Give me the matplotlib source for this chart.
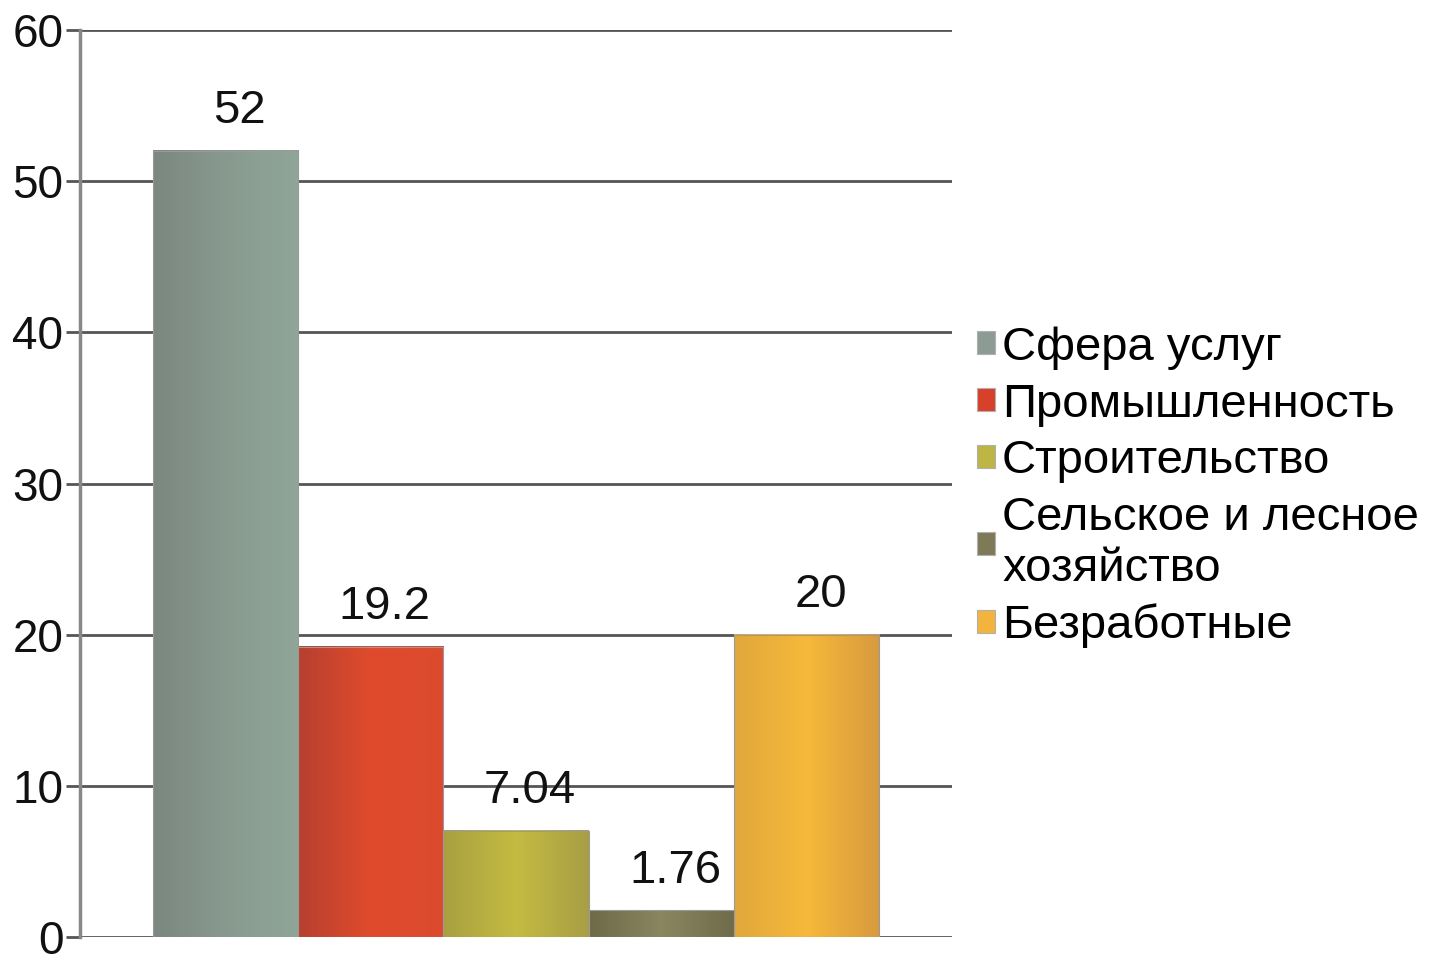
import matplotlib
matplotlib.use("Agg")
import matplotlib.pyplot as plt
from matplotlib.colors import LinearSegmentedColormap
from matplotlib.patches import Patch
import numpy as np

plt.rcParams['font.family'] = ['Liberation Sans', 'DejaVu Sans']

# data
categories = ['Сфера услуг', 'Промышленность', 'Строительство',
              'Сельское и лесное\nхозяйство', 'Безработные']
values = [52, 19.2, 7.04, 1.76, 20]
labels = ['52', '19.2', '7.04', '1.76', '20']

# left edge / middle / right edge shades of each bar
shades = [
    ['#7b8780', '#889a8f', '#90a699'],
    ['#b6402f', '#e04b2c', '#dc4a2e'],
    ['#a8a040', '#c4bb42', '#a89e45'],
    ['#6e6a48', '#8a8660', '#6f6b4a'],
    ['#e0a83c', '#f6b93a', '#d89a3e'],
]
legend_cols = ['#8c9c94', '#d9402a', '#bdb544', '#7e7a58', '#f2b43c']

fig = plt.figure(figsize=(14.39, 9.55), dpi=100)
ax = fig.add_axes([0.0556, 0.0188, 0.6060, 0.9498])

x = np.arange(len(values))
w = 1.0
grad = np.linspace(0, 1, 256).reshape(1, -1)
for i, v in enumerate(values):
    cmap = LinearSegmentedColormap.from_list('b%d' % i, shades[i])
    ax.imshow(grad, cmap=cmap, extent=(x[i] - w / 2, x[i] + w / 2, 0, v),
              aspect='auto', zorder=3, interpolation='bilinear')
    ax.bar(x[i], v, width=w, color='none', edgecolor='#9a9a9a',
           linewidth=0.8, zorder=4)
    ax.annotate(labels[i], (x[i], v), xytext=(10, 20), textcoords='offset points',
                ha='center', va='baseline', fontsize=34, color='#111111', zorder=5)

ax.set_xlim(-1.0, 5.0)
ax.set_ylim(0, 60)
ax.set_yticks(range(0, 61, 10))
ax.set_xticks([])
ax.yaxis.grid(True, color='#555555', linewidth=2, zorder=1)
ax.set_axisbelow(True)
for s in ['top', 'right', 'bottom']:
    ax.spines[s].set_visible(False)
ax.spines['left'].set_color('#888888')
ax.spines['left'].set_linewidth(2.5)
ax.tick_params(axis='y', length=10, width=2, color='#555555',
               labelsize=33, pad=2, labelcolor='#111111')

handles = [Patch(facecolor=c, edgecolor='#b0b0b0', linewidth=0.8) for c in legend_cols]
leg = fig.legend(handles, categories, loc='center left',
                 bbox_to_anchor=(0.6625, 0.49), frameon=False, fontsize=34,
                 handlelength=0.38, handleheight=0.38, handletextpad=0.15,
                 labelspacing=0.27, borderpad=0)
for t in leg.get_texts():
    t.set_linespacing(1.2)

fig.savefig('out.png', dpi=100)
